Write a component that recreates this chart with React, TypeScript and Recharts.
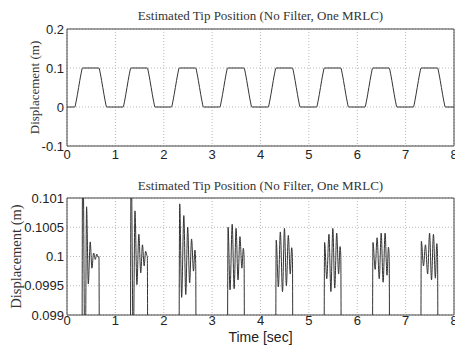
import { LineChart, Line, XAxis, YAxis, CartesianGrid, ReferenceArea } from "recharts";

const TITLE = "Estimated Tip Position (No Filter, One MRLC)";

const timeTicks = [0, 1, 2, 3, 4, 5, 6, 7, 8];
const topTicks = [-0.1, 0, 0.1, 0.2];
const topTickLabels = ["-0.1", "0", "0.1", "0.2"];
const zoomTicks = [0.099, 0.0995, 0.1, 0.1005, 0.101];
const zoomTickLabels = ["0.099", "0.0995", "0.1", "0.1005", "0.101"];

// full motion, upper panel
const topTime = [
	0, 0.16, 0.19, 0.24, 0.29, 0.32, 0.66, 0.69, 0.74, 0.79, 0.82,
	1.16, 1.19, 1.24, 1.29, 1.32, 1.66, 1.69, 1.74, 1.79, 1.82,
	2.16, 2.19, 2.24, 2.29, 2.32, 2.66, 2.69, 2.74, 2.79, 2.82,
	3.16, 3.19, 3.24, 3.29, 3.32, 3.66, 3.69, 3.74, 3.79, 3.82,
	4.16, 4.19, 4.24, 4.29, 4.32, 4.66, 4.69, 4.74, 4.79, 4.82,
	5.16, 5.19, 5.24, 5.29, 5.32, 5.66, 5.69, 5.74, 5.79, 5.82,
	6.16, 6.19, 6.24, 6.29, 6.32, 6.66, 6.69, 6.74, 6.79, 6.82,
	7.16, 7.19, 7.24, 7.29, 7.32, 7.66, 7.69, 7.74, 7.79, 7.82,
	8,
];
const topDisp = [
	0, 0, 0.015, 0.05, 0.085, 0.1, 0.1, 0.085, 0.05, 0.015, 0,
	0, 0.015, 0.05, 0.085, 0.1, 0.1, 0.085, 0.05, 0.015, 0,
	0, 0.015, 0.05, 0.085, 0.1, 0.1, 0.085, 0.05, 0.015, 0,
	0, 0.015, 0.05, 0.085, 0.1, 0.1, 0.085, 0.05, 0.015, 0,
	0, 0.015, 0.05, 0.085, 0.1, 0.1, 0.085, 0.05, 0.015, 0,
	0, 0.015, 0.05, 0.085, 0.1, 0.1, 0.085, 0.05, 0.015, 0,
	0, 0.015, 0.05, 0.085, 0.1, 0.1, 0.085, 0.05, 0.015, 0,
	0, 0.015, 0.05, 0.085, 0.1, 0.1, 0.085, 0.05, 0.015, 0,
	0,
];

// zoom on the 0.1 m plateau, one list per cycle [t, disp]
const cycle0 = [[0.16, 0], [0.29, 0.085], [0.325, 0.1022], [0.375, 0.0978], [0.405, 0.10085], [0.44, 0.09953], [0.48, 0.10025], [0.515, 0.0998], [0.55, 0.10006], [0.585, 0.09995], [0.615, 0.10004], [0.645, 0.09999], [0.66, 0.1], [0.69, 0.085], [0.82, 0]];
const cycle1 = [[1.16, 0], [1.29, 0.085], [1.325, 0.1018], [1.37, 0.0984], [1.405, 0.10078], [1.445, 0.09952], [1.485, 0.10038], [1.525, 0.09972], [1.56, 0.1002], [1.595, 0.09984], [1.625, 0.10009], [1.65, 0.10002], [1.66, 0.1], [1.69, 0.085], [1.82, 0]];
const cycle2 = [[2.16, 0], [2.29, 0.085], [2.33, 0.1009], [2.37, 0.0993], [2.415, 0.1007], [2.455, 0.09935], [2.495, 0.1005], [2.535, 0.09955], [2.575, 0.1003], [2.615, 0.09975], [2.645, 0.10011], [2.66, 0.0999], [2.69, 0.085], [2.82, 0]];
const cycle3 = [[3.16, 0], [3.29, 0.085], [3.33, 0.1005], [3.37, 0.09943], [3.415, 0.10055], [3.455, 0.09945], [3.495, 0.10048], [3.535, 0.0996], [3.575, 0.10034], [3.615, 0.0998], [3.645, 0.10014], [3.66, 0.1], [3.69, 0.085], [3.82, 0]];
const cycle4 = [[4.16, 0], [4.29, 0.085], [4.325, 0.10028], [4.37, 0.09948], [4.41, 0.10042], [4.455, 0.0994], [4.495, 0.10048], [4.535, 0.0995], [4.575, 0.10036], [4.615, 0.0997], [4.645, 0.10015], [4.66, 0.1], [4.69, 0.085], [4.82, 0]];
const cycle5 = [[5.16, 0], [5.29, 0.085], [5.325, 0.10024], [5.37, 0.09962], [5.415, 0.10038], [5.455, 0.0994], [5.495, 0.10048], [5.535, 0.09946], [5.575, 0.1004], [5.615, 0.0997], [5.645, 0.10017], [5.66, 0.1], [5.69, 0.085], [5.82, 0]];
const cycle6 = [[6.16, 0], [6.29, 0.085], [6.325, 0.10024], [6.37, 0.09978], [6.41, 0.10032], [6.455, 0.09962], [6.495, 0.1004], [6.535, 0.09956], [6.575, 0.1004], [6.615, 0.09968], [6.645, 0.10016], [6.66, 0.1], [6.69, 0.085], [6.82, 0]];
const cycle7 = [[7.16, 0], [7.29, 0.085], [7.325, 0.10026], [7.37, 0.09984], [7.41, 0.1002], [7.455, 0.0997], [7.495, 0.1004], [7.535, 0.0996], [7.575, 0.10038], [7.615, 0.09963], [7.645, 0.10022], [7.66, 0.1], [7.69, 0.085], [7.82, 0]];

const topData = topTime.map((t, i) => ({ t, y: topDisp[i] }));
const zoomData = [[0, 0], ...cycle0, ...cycle1, ...cycle2, ...cycle3, ...cycle4, ...cycle5, ...cycle6, ...cycle7, [8, 0]].map(
	([t, y]) => ({ t, y })
);

const sans = "'Liberation Sans', Arial, Helvetica, sans-serif";
const serif = "'Liberation Serif', 'Times New Roman', serif";

const titleStyle: React.CSSProperties = {
	position: "absolute",
	left: 67,
	width: 387,
	textAlign: "center",
	fontFamily: serif,
	fontSize: 13,
	lineHeight: "13px",
	color: "#333",
	whiteSpace: "nowrap",
};

export default function App() {
	return (
		<div style={{ position: "absolute", left: 0, top: 0, width: 455, height: 349, background: "#fff", overflow: "hidden" }}>
			<div style={{ ...titleStyle, top: 9 }}>{TITLE}</div>
			<div style={{ position: "absolute", left: 0, top: 0 }}>
				<LineChart width={455} height={175} data={topData} margin={{ top: 29, right: 1, bottom: 0, left: 0 }}>
					<CartesianGrid stroke="#b8b8b8" strokeDasharray="1 2" />
					<XAxis
						dataKey="t"
						type="number"
						domain={[0, 8]}
						ticks={timeTicks}
						interval={0}
						height={29}
						tickSize={0}
						tickMargin={4}
						axisLine={false}
						tick={{ fontSize: 13, fill: "#222", fontFamily: sans }}
					/>
					<YAxis
						type="number"
						domain={[-0.1, 0.2]}
						ticks={topTicks}
						interval={0}
						width={67}
						tickSize={0}
						tickMargin={3}
						axisLine={false}
						tickFormatter={(_v: number, i: number) => topTickLabels[i]}
						tick={{ fontSize: 13, fill: "#222", fontFamily: sans }}
						label={{
							value: "Displacement (m)",
							angle: -90,
							position: "insideLeft",
							offset: 34,
							textAnchor: "middle",
							style: { fontSize: 13, fill: "#333", fontFamily: serif },
						}}
					/>
					<ReferenceArea x1={0} x2={8} y1={-0.1} y2={0.2} fill="none" stroke="#444" strokeWidth={1} />
					<Line dataKey="y" type="monotone" stroke="#333" strokeWidth={1} dot={false} isAnimationActive={false} />
				</LineChart>
			</div>
			<div style={{ ...titleStyle, top: 179 }}>{TITLE}</div>
			<div style={{ position: "absolute", left: 0, top: 175 }}>
				<LineChart width={455} height={174} data={zoomData} margin={{ top: 23, right: 1, bottom: 0, left: 0 }}>
					<CartesianGrid stroke="#b8b8b8" strokeDasharray="1 2" />
					<XAxis
						dataKey="t"
						type="number"
						domain={[0, 8]}
						ticks={timeTicks}
						interval={0}
						height={34}
						tickSize={0}
						tickMargin={1}
						axisLine={false}
						tick={{ fontSize: 13, fill: "#222", fontFamily: sans }}
						label={{
							value: "Time [sec]",
							position: "insideBottom",
							offset: 7,
							style: { fontSize: 14, fill: "#222", fontFamily: sans },
						}}
					/>
					<YAxis
						type="number"
						domain={[0.099, 0.101]}
						allowDataOverflow
						ticks={zoomTicks}
						interval={0}
						width={67}
						tickSize={0}
						tickMargin={3}
						axisLine={false}
						tickFormatter={(_v: number, i: number) => zoomTickLabels[i]}
						tick={{ fontSize: 13, fill: "#222", fontFamily: sans }}
						label={{
							value: "Displacement (m)",
							angle: -90,
							position: "insideLeft",
							offset: 16,
							textAnchor: "middle",
							style: { fontSize: 14.5, fill: "#333", fontFamily: serif },
						}}
					/>
					<ReferenceArea x1={0} x2={8} y1={0.099} y2={0.101} fill="none" stroke="#444" strokeWidth={1} />
					<Line dataKey="y" type="monotone" stroke="#333" strokeWidth={1} dot={false} isAnimationActive={false} />
				</LineChart>
			</div>
		</div>
	);
}
